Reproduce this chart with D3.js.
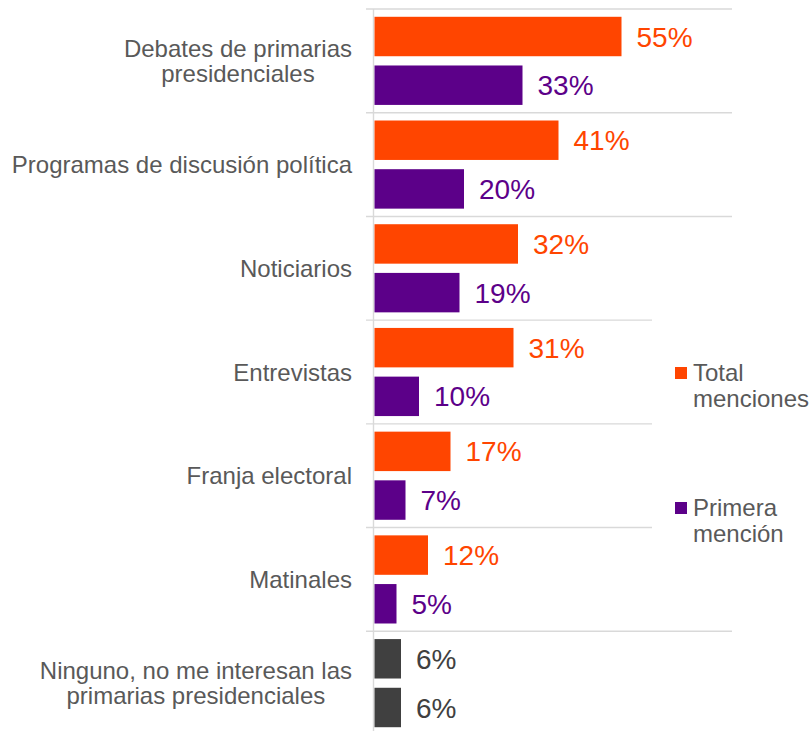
<!DOCTYPE html>
<html><head><meta charset="utf-8">
<script src="https://cdn.jsdelivr.net/npm/d3@7"></script>
<style>body{margin:0;background:#fff;} text{font-family:"Liberation Sans", Arial, sans-serif;}</style>
</head><body><svg id="chart" width="811" height="731"></svg>
<script>
const categories = ["Debates de primarias presidenciales","Programas de discusión política","Noticiarios","Entrevistas","Franja electoral","Matinales","Ninguno, no me interesan las primarias presidenciales"];
const categoryLabelLines = [["Debates de primarias","presidenciales"],["Programas de discusión política"],["Noticiarios"],["Entrevistas"],["Franja electoral"],["Matinales"],["Ninguno, no me interesan las","primarias presidenciales"]];
const seriesNames = ["Total menciones","Primera mención"];
const legendLines = [["Total","menciones"],["Primera","mención"]];
const totalMenciones = [55,41,32,31,17,12,6];
const primeraMencion = [33,20,19,10,7,5,6];
const seriesColors = ["#FF4500","#5C0089"];
const noneColor = "#404040";
const textColor = "#595959";
const gridColor = "#D9D9D9";

const svg = d3.select("#chart");
const x = d3.scaleLinear().domain([0,80]).range([374,734]);
const y0 = d3.scaleBand().domain(categories).range([9,735]).padding(0);
const y1 = d3.scaleBand().domain(seriesNames).range([0,y0.bandwidth()]).paddingInner(0.19).paddingOuter(0.16);

const rows = categories.map((c,i)=>({c,i,vals:[totalMenciones[i],primeraMencion[i]]}));

// separators
svg.append("g").selectAll("line").data(categories).join("line")
  .attr("x1",366).attr("x2",732)
  .attr("y1",d=>y0(d)).attr("y2",d=>y0(d))
  .attr("stroke",gridColor).attr("stroke-width",1.4);
// axis
svg.append("line").attr("x1",373.5).attr("x2",373.5).attr("y1",y0.range()[0]).attr("y2",731)
  .attr("stroke",gridColor).attr("stroke-width",1.4);

// bars
const g = svg.append("g").selectAll("g").data(rows).join("g").attr("transform",d=>`translate(0,${y0(d.c)})`);
g.selectAll("rect").data(d=>d.vals.map((v,s)=>({v,s,i:d.i}))).join("rect")
  .attr("x",x(0)+0.5).attr("y",d=>y1(seriesNames[d.s]))
  .attr("width",d=>x(d.v)-x(0)-0.5).attr("height",y1.bandwidth())
  .attr("fill",d=>d.i===6?noneColor:seriesColors[d.s]);
g.selectAll("text").data(d=>d.vals.map((v,s)=>({v,s,i:d.i}))).join("text")
  .attr("x",d=>x(d.v)+15).attr("y",d=>y1(seriesNames[d.s])+y1.bandwidth()/2)
  .attr("dy","0.36em").attr("font-size",28)
  .attr("fill",d=>d.i===6?noneColor:seriesColors[d.s])
  .text(d=>d.v+"%");

// category labels
const labelRight = 352;
rows.forEach(r=>{
  const lines = categoryLabelLines[r.i];
  const cy = y0(r.c)+y0.bandwidth()/2;
  const t = svg.append("text").attr("font-size",24).attr("fill",textColor).attr("text-anchor","middle");
  const lh = 25;
  const first = cy - (lines.length-1)*lh/2 + 8.6;
  const spans = lines.map((l,k)=>t.append("tspan").attr("y",first+k*lh).text(l));
  let maxW = 0;
  spans.forEach(s=>{maxW=Math.max(maxW,s.node().getComputedTextLength());});
  spans.forEach(s=>s.attr("x",labelRight-maxW/2));
});

// legend
svg.append("rect").attr("x",652).attr("y",235).attr("width",159).attr("height",320).attr("fill","#fff");
const legendY = [381,516];
seriesNames.forEach((s,k)=>{
  svg.append("rect").attr("x",675).attr("y",legendY[k]-14).attr("width",12).attr("height",12).attr("fill",seriesColors[k]);
  const t = svg.append("text").attr("font-size",24).attr("fill",textColor);
  legendLines[k].forEach((l,j)=>t.append("tspan").attr("x",693).attr("y",legendY[k]+j*26).text(l));
});
</script></body></html>
